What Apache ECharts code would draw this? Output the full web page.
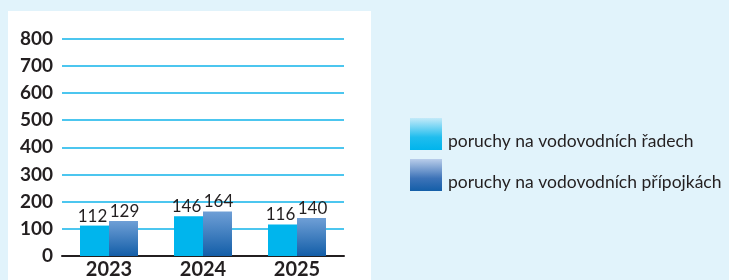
<!DOCTYPE html>
<html>
<head>
<meta charset="utf-8">
<script src="https://cdn.jsdelivr.net/npm/echarts@6/dist/echarts.min.js"></script>
<style>
  html, body { margin: 0; padding: 0; background: #e1f3fb; }
  #chart { width: 729px; height: 280px; }
</style>
</head>
<body>
<div id="chart"></div>
<script>
var years = ['2023', '2024', '2025'];
var radyData = [112, 146, 116];
var pripojkyData = [129, 164, 140];
var yTicks = [0, 100, 200, 300, 400, 500, 600, 700, 800];

var chart = echarts.init(document.getElementById('chart'));

var gradDark = new echarts.graphic.LinearGradient(0, 0, 0, 1, [
  {offset: 0, color: '#6f9fd6'},
  {offset: 1, color: '#135ea8'}
]);
// legend icon box is 46px tall, visible square is the top 32px
var legendCyan = new echarts.graphic.LinearGradient(0, 0, 0, 1, [
  {offset: 0, color: '#c4eaf9'},
  {offset: 0.42, color: '#1fbdee'},
  {offset: 0.7, color: '#00b4ec'},
  {offset: 1, color: '#00b4ec'}
]);
var legendDark = new echarts.graphic.LinearGradient(0, 0, 0, 1, [
  {offset: 0, color: '#b9cdea'},
  {offset: 0.42, color: '#3d73b8'},
  {offset: 0.7, color: '#135ea8'},
  {offset: 1, color: '#135ea8'}
]);

var labelStyle = {
  show: true,
  position: 'top',
  distance: 1,
  fontFamily: 'Lato',
  fontSize: 17,
  color: '#231f20'
};

var option = {
  backgroundColor: '#e1f3fb',
  animation: false,
  graphic: [{
    type: 'rect',
    z: -10,
    shape: {x: 8, y: 11, width: 363, height: 280},
    style: {fill: '#ffffff'}
  }],
  grid: {
    left: 62,
    top: 38.7,
    width: 282,
    bottom: 24
  },
  legend: {
    orient: 'vertical',
    left: 410,
    top: 118,
    padding: 0,
    itemWidth: 32,
    itemHeight: 46,
    itemGap: -5,
    icon: 'path://M0,0L32,0L32,32L0,32Z M0,46L32,46',
    textStyle: {fontFamily: 'Lato', fontSize: 17.5, color: '#231f20', padding: [0, 0, 0, 1]},
    data: [
      {name: 'poruchy na vodovodních řadech', itemStyle: {color: legendCyan, borderWidth: 0}},
      {name: 'poruchy na vodovodních přípojkách', itemStyle: {color: legendDark, borderWidth: 0}}
    ]
  },
  xAxis: {
    type: 'category',
    data: years,
    axisLine: {lineStyle: {color: '#231f20', width: 2}},
    axisTick: {show: false},
    axisLabel: {
      fontFamily: 'Lato',
      fontWeight: 'bold',
      fontSize: 20,
      color: '#231f20',
      margin: 4
    }
  },
  yAxis: {
    type: 'value',
    min: yTicks[0],
    max: yTicks[yTicks.length - 1],
    interval: 100,
    axisLine: {show: false},
    axisTick: {show: false},
    splitLine: {lineStyle: {color: '#4cc6ef', width: 2}},
    axisLabel: {
      fontFamily: 'Lato',
      fontWeight: 'bold',
      fontSize: 19,
      color: '#231f20',
      margin: 9
    }
  },
  series: [{
    name: 'poruchy na vodovodních řadech',
    type: 'bar',
    barWidth: 29,
    barGap: '0%',
    itemStyle: {color: '#00b5ed'},
    label: Object.assign({offset: [-2, 0]}, labelStyle),
    data: radyData
  }, {
    name: 'poruchy na vodovodních přípojkách',
    type: 'bar',
    barWidth: 29,
    barGap: '0%',
    itemStyle: {color: gradDark},
    label: Object.assign({offset: [1, 0]}, labelStyle),
    data: pripojkyData
  }]
};
chart.setOption(option);
</script>
</body>
</html>
